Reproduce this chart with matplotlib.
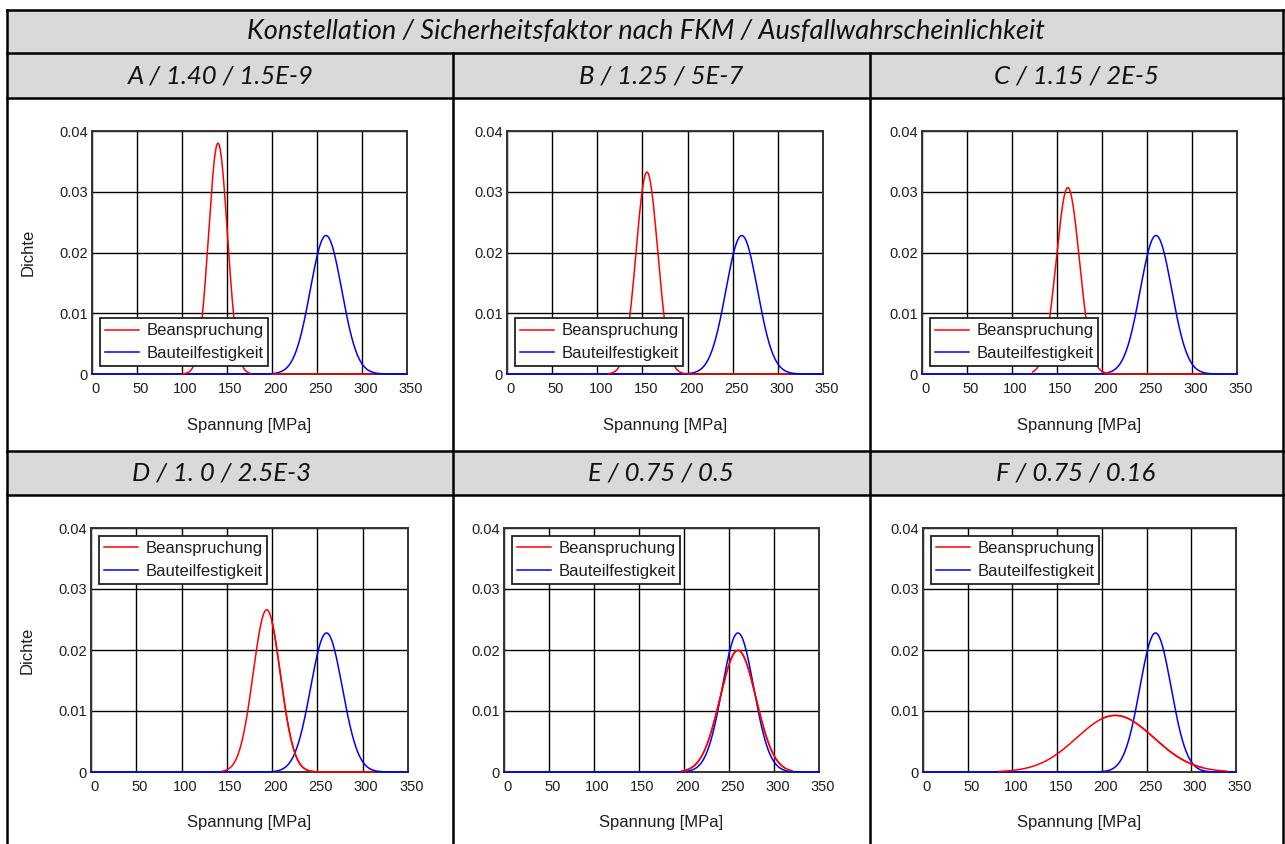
import numpy as np
import matplotlib
matplotlib.use("Agg")
from matplotlib import pyplot as plt
from matplotlib.patches import Rectangle
import matplotlib.transforms as mtrans

# header texts
main_title = "Konstellation / Sicherheitsfaktor nach FKM / Ausfallwahrscheinlichkeit"
panel_titles = ["A / 1.40 / 1.5E-9", "B / 1.25 / 5E-7", "C / 1.15 / 2E-5",
                "D / 1. 0 / 2.5E-3", "E / 0.75 / 0.5", "F / 0.75 / 0.16"]

# Beanspruchung (stress) normal distribution
stress_mean = [140, 155, 162, 194, 260, 215]
stress_sd = [10.5, 12.0, 13.0, 15.0, 20.0, 43.0]
stress_lo = [100, 113, 123, 145, 197, 85]
stress_hi = [176, 197, 208, 245, 320, 340]

# Bauteilfestigkeit (strength), same in every panel
strength_mean = 260
strength_sd = 17.5
strength_lo = 200
strength_hi = 312

x_ticks = [0, 50, 100, 150, 200, 250, 300, 350]
y_ticks = [0, 0.01, 0.02, 0.03, 0.04]
y_tick_labels = ["0", "0.01", "0.02", "0.03", "0.04"]

W, H = 1285, 844
fig = plt.figure(figsize=(W / 100, H / 100), dpi=100)

# table background in pixel coords
bg = fig.add_axes([0, 0, 1, 1])
bg.set_xlim(0, W)
bg.set_ylim(H, 0)
bg.axis("off")
gray = "#d9d9d9"
for y0, y1 in [(10, 53), (53, 98), (451, 495)]:
    bg.add_patch(Rectangle((7, y0), 1283 - 7, y1 - y0, color=gray, lw=0))
lw_tab = 1.8
for y in [10, 53, 98, 451, 495]:
    bg.plot([7, 1283], [y, y], color="black", lw=lw_tab, solid_capstyle="projecting")
for x in [7, 1283]:
    bg.plot([x, x], [10, 850], color="black", lw=lw_tab, solid_capstyle="projecting")
for x in [453, 870]:
    bg.plot([x, x], [53, 850], color="black", lw=lw_tab)

hfont = dict(family="Lato", style="italic", color="#111111")
bg.text(646, 32, main_title, ha="center", va="center", fontsize=19.5, **hfont)
cell_cx = [221, 661, 1076]
for i, t in enumerate(panel_titles):
    cy = 76 if i < 3 else 473
    bg.text(cell_cx[i % 3], cy, t, ha="center", va="center", fontsize=18.5, **hfont)

# axes placement (pixels): left, right, top, bottom
boxes = [(92, 407, 131, 374), (507, 823, 131, 374), (922, 1237, 131, 374),
         (91, 408, 528, 772), (504, 819, 528, 772), (923, 1236, 528, 772)]

txt = "#1e1e1e"
plt.rcParams["font.family"] = ["Liberation Sans", "DejaVu Sans"]

xs_full = np.linspace(0, 350, 700)
xs_str = np.linspace(strength_lo, strength_hi, 300)

def pdf(x, m, s):
    return np.exp(-0.5 * ((x - m) / s) ** 2) / (s * np.sqrt(2 * np.pi))

for i in range(6):
    l, r, t, b = boxes[i]
    ax = fig.add_axes([l / W, 1 - b / H, (r - l) / W, (b - t) / H])
    ax.set_xlim(0, 350)
    ax.set_ylim(0, 0.04)

    ax.plot(xs_full, pdf(xs_full, strength_mean, strength_sd), color="#0000ff", lw=1.1,
            label="Bauteilfestigkeit", zorder=3, clip_on=False)
    xr = np.linspace(stress_lo[i], stress_hi[i], 300)
    ax.plot(xr, pdf(xr, stress_mean[i], stress_sd[i]), color="#ff0000", lw=1.1,
            label="Beanspruchung", zorder=4, clip_on=False)
    ax.plot(xs_str, pdf(xs_str, stress_mean[i], stress_sd[i]), color="#ff0000", lw=1.1,
            zorder=4, clip_on=False)

    ax.set_xticks(x_ticks)
    ax.set_yticks(y_ticks)
    ax.set_yticklabels(y_tick_labels)
    ax.grid(True, color="black", lw=1.0)
    ax.set_axisbelow(True)
    ax.tick_params(length=0, labelsize=10.5, labelcolor=txt)
    ax.tick_params(axis="x", pad=6)
    ax.tick_params(axis="y", pad=3)
    off = mtrans.ScaledTranslation(0.035, 0, fig.dpi_scale_trans)
    for lab in ax.get_xticklabels():
        lab.set_transform(lab.get_transform() + off)
    for sp in ax.spines.values():
        sp.set_color("#333333")
        sp.set_linewidth(1.4)

    ax.set_xlabel("Spannung [MPa]", fontsize=12, color=txt)
    ax.xaxis.set_label_coords(0.5, -(51 / (b - t)))
    ax.xaxis.label.set_va("center")
    if i % 3 == 0:
        ax.set_ylabel("Dichte", fontsize=12, color=txt)
        ax.yaxis.set_label_coords(-(64 / (r - l)), 0.5)
        ax.yaxis.label.set_va("center")

    h, lb = ax.get_legend_handles_labels()
    order = [1, 0]
    leg = ax.legend([h[k] for k in order], [lb[k] for k in order],
                    loc="lower left" if i < 3 else "upper left",
                    fontsize=12, fancybox=False, framealpha=1, edgecolor="#222222",
                    borderpad=0.3, handlelength=2.0, handletextpad=0.45,
                    labelspacing=0.44, borderaxespad=0.5)
    leg.get_frame().set_linewidth(1.3)
    leg.set_zorder(5)
    for tx in leg.get_texts():
        tx.set_color(txt)

fig.savefig("out.png", dpi=100)
